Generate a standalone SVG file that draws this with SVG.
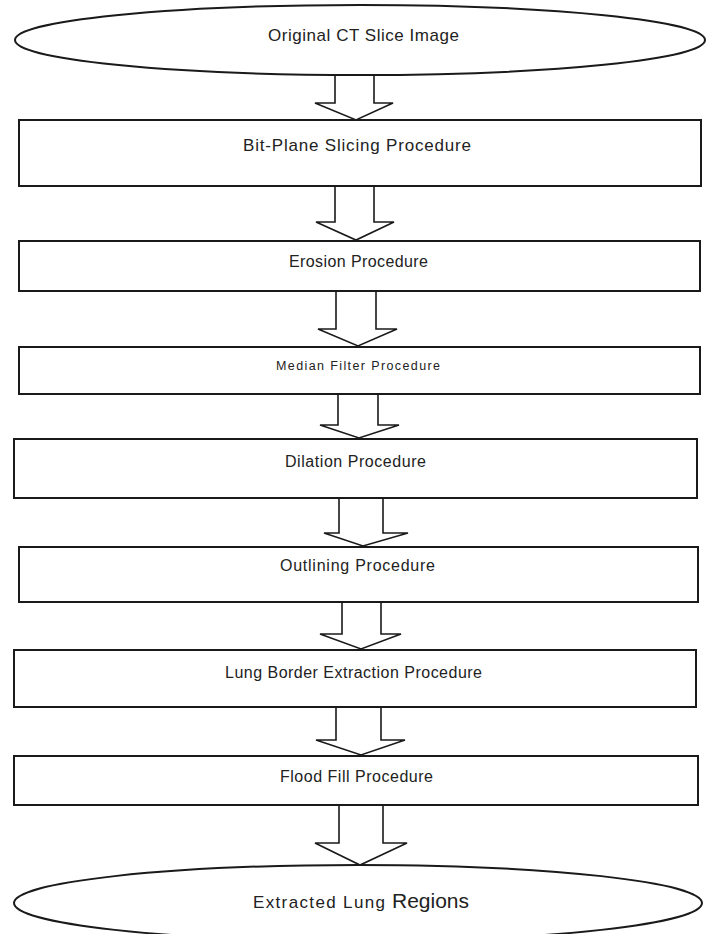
<svg xmlns="http://www.w3.org/2000/svg" width="707" height="934" viewBox="0 0 707 934">
<style>
.box{fill:#fff;stroke:#1a1a1a;stroke-width:2}
.ell{fill:#fff;stroke:#1a1a1a;stroke-width:2}
.arr{fill:#fff;stroke:#1a1a1a;stroke-width:1.6;stroke-linejoin:miter}
.t{font-family:"Liberation Sans",Arial,sans-serif;font-size:16px;fill:#222}
</style>
<rect width="707" height="934" fill="#fff"/>
<g id="connectors">
<polyline class="arr" points="335,74 335,103 315,103 356,120 393,103 374,103 374,74"/>
<polyline class="arr" points="335,186 335,222 316,222 356,240 394,222 374,222 374,186"/>
<polyline class="arr" points="336,291 336,329 318,329 358,346 397,329 376,329 376,291"/>
<polyline class="arr" points="338,394 338,425 320,425 359,438 399,425 378,425 378,394"/>
<polyline class="arr" points="339,498 339,533 324,533 363,546 408,533 383,533 383,498"/>
<polyline class="arr" points="342,602 342,634 320,634 361,649 401,634 381,634 381,602"/>
<polyline class="arr" points="336,707 336,740 316,740 361,755 405,740 381,740 381,707"/>
<polyline class="arr" points="339,805 339,843 315,843 360,865 407,843 383,843 383,805"/>
</g>
<g id="n0">
<ellipse class="ell" cx="360" cy="40" rx="345" ry="35"/>
<text class="t" x="268" y="41" textLength="191" style="font-size:17px">Original CT Slice Image</text>
</g>
<g id="n1">
<rect class="box" x="19" y="120" width="682" height="66"/>
<text class="t" x="243" y="151" textLength="228" style="font-size:17px">Bit-Plane Slicing Procedure</text>
</g>
<g id="n2">
<rect class="box" x="19" y="241" width="681" height="50"/>
<text class="t" x="289" y="267" textLength="139">Erosion Procedure</text>
</g>
<g id="n3">
<rect class="box" x="19" y="347" width="681" height="47"/>
<text class="t" x="276" y="370" textLength="164" style="font-size:12.5px">Median Filter Procedure</text>
</g>
<g id="n4">
<rect class="box" x="14" y="439" width="683" height="59"/>
<text class="t" x="285" y="467" textLength="141">Dilation Procedure</text>
</g>
<g id="n5">
<rect class="box" x="19" y="547" width="679" height="55"/>
<text class="t" x="280" y="571" textLength="155">Outlining Procedure</text>
</g>
<g id="n6">
<rect class="box" x="14" y="650" width="682" height="57"/>
<text class="t" x="225" y="678" textLength="257">Lung Border Extraction Procedure</text>
</g>
<g id="n7">
<rect class="box" x="14" y="756" width="684" height="49"/>
<text class="t" x="280" y="782" textLength="153">Flood Fill Procedure</text>
</g>
<g id="n8">
<ellipse class="ell" cx="358" cy="903" rx="344" ry="38"/>
<text class="t" x="253" y="908" textLength="132" style="font-size:17px">Extracted Lung</text>
<text class="t" x="392" y="908" style="font-size:21px">Regions</text>
</g>
</svg>
